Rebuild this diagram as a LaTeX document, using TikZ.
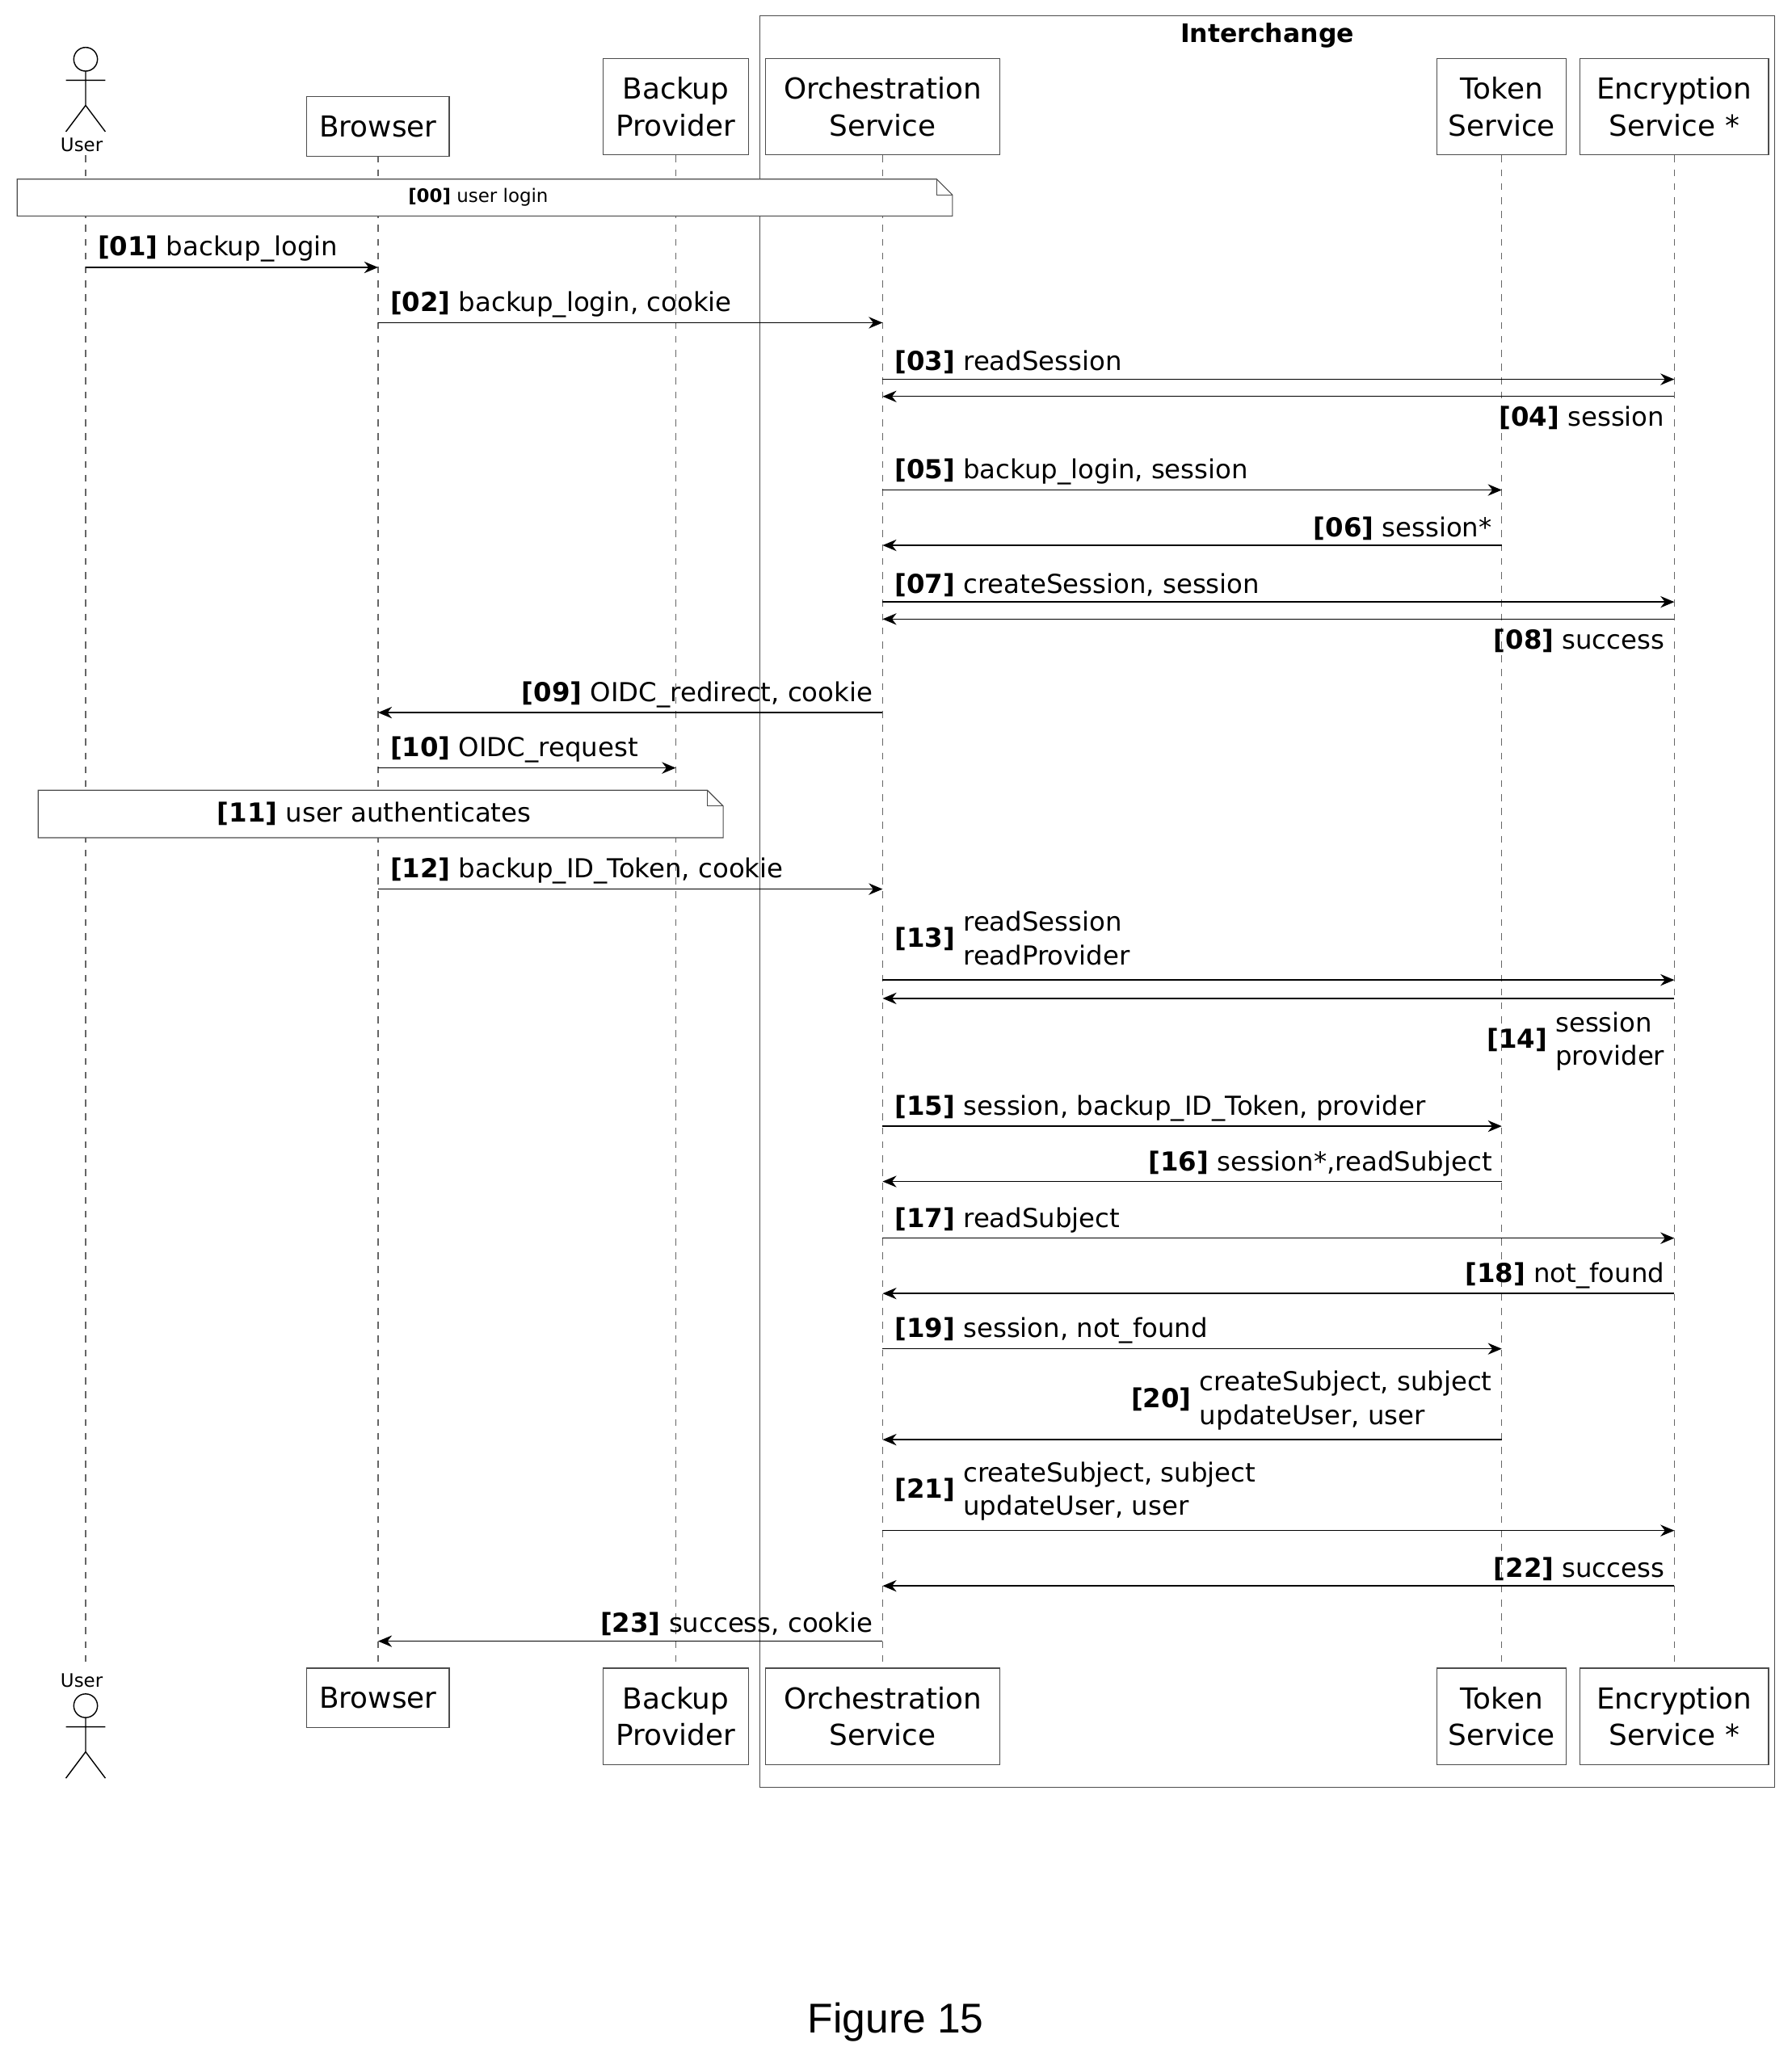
\documentclass[tikz,border=0pt]{standalone}
\usepackage{fontspec}
\setmainfont{DejaVu Sans}
\newfontfamily\figfont{Liberation Sans}
\usetikzlibrary{arrows.meta,shapes.misc}

\tikzset{
  partbox/.style={draw=black!70, fill=white, align=center, inner sep=3pt, font=\fontsize{12.5}{16}\selectfont},
  lifeline/.style={black!60, dashed, dash pattern=on 3pt off 3pt, line width=0.4pt},
  msg/.style={-{Stealth[length=6pt,width=5pt]}, line width=0.5pt},
  lbl/.style={font=\fontsize{11.3}{14.5}\selectfont, inner sep=1pt},
  notebox/.style={draw=black!70, fill=white, line width=0.4pt}
}
\newcommand{\num}[1]{\textbf{[#1]}}

\begin{document}
\begin{tikzpicture}[x=0.02cm,y=-0.02cm]
\useasboundingbox (0,0) rectangle (1360,1567);
% interchange frame
\draw[black!70] (577,12) rectangle (1347,1357);
\node[font=\bfseries\fontsize{11}{12}\selectfont] (ic) at (962,27) {Interchange};
% lifeline x positions
\coordinate (ux) at (65,0);
\coordinate (bx) at (287,0);
\coordinate (px) at (513,0);
\coordinate (ox) at (670,0);
\coordinate (tx) at (1140,0);
\coordinate (ex) at (1271,0);
% lifelines
\foreach \c in {ux,bx,px,ox,tx,ex}
  \draw[lifeline] (\c |- 0,118) -- (\c |- 0,1267);
% participants top and bottom
\foreach \y/\s in {96/t,1289/b}{
  \node[partbox, text width=1.95cm, minimum height=45*0.02cm] (browser\s) at (bx |- 0,\y) {Browser};
}
\foreach \y/\s in {81/t,1303/b}{
  \node[partbox, text width=2cm, minimum height=73*0.02cm] (backup\s) at (px |- 0,\y) {Backup\\Provider};
  \node[partbox, text width=3.35cm, minimum height=73*0.02cm] (orch\s) at (ox |- 0,\y) {Orchestration\\Service};
  \node[partbox, text width=1.75cm, minimum height=73*0.02cm] (token\s) at (tx |- 0,\y) {Token\\Service};
  \node[partbox, text width=2.65cm, minimum height=73*0.02cm] (encr\s) at (ex |- 0,\y) {Encryption\\Service *};
}
% actors
\foreach \h/\s in {45/t,1295/b}{
  \draw[line width=0.5pt] (ux |- 0,\h) circle (9)
    (65,\h+9) -- (65,\h+35) (50,\h+16) -- (80,\h+16)
    (65,\h+35) -- (50,\h+55) (65,\h+35) -- (80,\h+55);
}
\node[font=\fontsize{8}{9}\selectfont] (usert) at (62,110) {User};
\node[font=\fontsize{8}{9}\selectfont] (userb) at (62,1276) {User};
% notes
\draw[notebox] (13,136) -- (711,136) -- (723,148) -- (723,164) -- (13,164) -- cycle;
\draw[black!70] (711,136) -- (711,148) -- (723,148);
\node[font=\fontsize{8}{9}\selectfont] (n00) at (363,150) {\num{00} user login};
\draw[notebox] (29,600) -- (537,600) -- (549,612) -- (549,636) -- (29,636) -- cycle;
\draw[black!70] (537,600) -- (537,612) -- (549,612);
\node[lbl] (n11) at (284,618) {\num{11} user authenticates};
% messages: right-going
\foreach \a/\b/\y/\t in {ux/bx/203/{\num{01} backup\_login},
    bx/ox/245/{\num{02} backup\_login, cookie},
    ox/ex/288/{\num{03} readSession},
    ox/tx/372/{\num{05} backup\_login, session},
    ox/ex/457/{\num{07} createSession, session},
    bx/px/583/{\num{10} OIDC\_request},
    bx/ox/675/{\num{12} backup\_ID\_Token, cookie},
    ox/tx/855/{\num{15} session, backup\_ID\_Token, provider},
    ox/ex/940/{\num{17} readSubject},
    ox/tx/1024/{\num{19} session, not\_found}}{
  \draw[msg] (\a |- 0,\y) -- (\b |- 0,\y) node[lbl, pos=0, anchor=south west, xshift=4pt, yshift=1pt] {\t};
}
% messages: left-going, label above
\foreach \a/\b/\y/\t in {tx/ox/414/{\num{06} session*},
    ox/bx/541/{\num{09} OIDC\_redirect, cookie},
    tx/ox/897/{\num{16} session*,readSubject},
    ex/ox/982/{\num{18} not\_found},
    ex/ox/1204/{\num{22} success},
    ox/bx/1246/{\num{23} success, cookie}}{
  \draw[msg] (\a |- 0,\y) -- (\b |- 0,\y) node[lbl, pos=0, anchor=south east, xshift=-3pt, yshift=1pt] {\t};
}
% returns with label below
\foreach \y/\t in {301/{\num{04} session}, 470/{\num{08} success}}{
  \draw[msg] (ex |- 0,\y) -- (ox |- 0,\y) node[lbl, pos=0, anchor=north east, xshift=-3pt, yshift=-3pt] {\t};
}
% two-line messages
\draw[msg] (ox |- 0,744) -- (ex |- 0,744) node[lbl, pos=0, anchor=south west, xshift=4pt, yshift=1pt]
  {\num{13} \begin{tabular}{@{}l@{}}readSession\\readProvider\end{tabular}};
\draw[msg] (ex |- 0,758) -- (ox |- 0,758) node[lbl, pos=0, anchor=north east, xshift=-3pt, yshift=-3pt]
  {\num{14} \begin{tabular}{@{}l@{}}session\\provider\end{tabular}};
\draw[msg] (tx |- 0,1093) -- (ox |- 0,1093) node[lbl, pos=0, anchor=south east, xshift=-3pt, yshift=1pt]
  {\num{20} \begin{tabular}{@{}l@{}}createSubject, subject\\updateUser, user\end{tabular}};
\draw[msg] (ox |- 0,1162) -- (ex |- 0,1162) node[lbl, pos=0, anchor=south west, xshift=4pt, yshift=1pt]
  {\num{21} \begin{tabular}{@{}l@{}}createSubject, subject\\updateUser, user\end{tabular}};
% caption
\node[font=\figfont\fontsize{18}{20}\selectfont] (fig) at (680,1535) {Figure 15};
\end{tikzpicture}
\end{document}
